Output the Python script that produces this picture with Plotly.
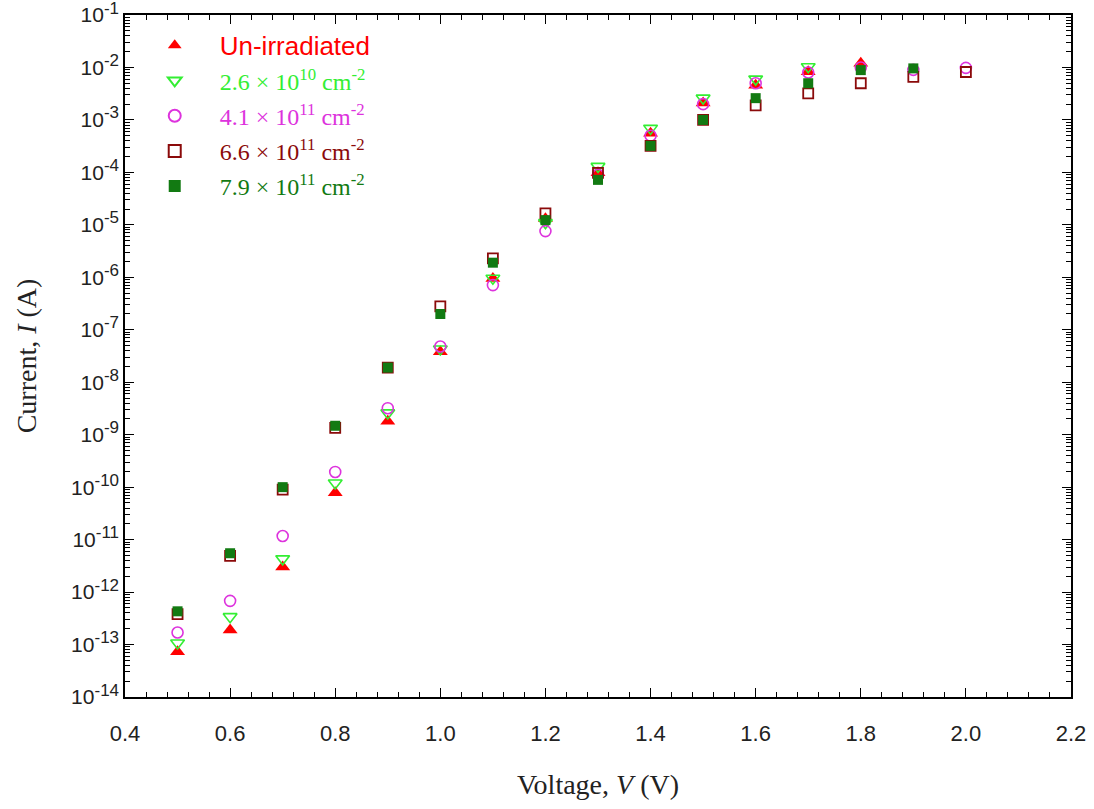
import plotly.graph_objects as go

# Voltages (V) and currents (A) per series
v_unirr = [0.5, 0.6, 0.7, 0.8, 0.9, 1.0, 1.1, 1.2, 1.3, 1.4, 1.5, 1.6, 1.7, 1.8]
i_unirr = [7.3e-14, 1.9e-13, 3.0e-12, 7.8e-11, 1.8e-9, 3.8e-8, 9.5e-7, 1.3e-5, 9.8e-5, 5.6e-4, 2.1e-3, 4.6e-3, 8.3e-3, 1.2e-2]

v_26e10 = [0.5, 0.6, 0.7, 0.8, 0.9, 1.0, 1.1, 1.2, 1.3, 1.4, 1.5, 1.6, 1.7]
i_26e10 = [1.07e-13, 3.4e-13, 4.3e-12, 1.2e-10, 2.6e-9, 4.3e-8, 9.6e-7, 1.1e-5, 1.3e-4, 6.9e-4, 2.6e-3, 6.0e-3, 1.03e-2]

v_41e11 = [0.5, 0.6, 0.7, 0.8, 0.9, 1.0, 1.1, 1.2, 1.3, 1.4, 1.5, 1.6, 1.7, 1.8, 1.9, 2.0]
i_41e11 = [1.7e-13, 6.8e-13, 1.17e-11, 1.95e-10, 3.2e-9, 4.8e-8, 7.1e-7, 7.6e-6, 9.0e-5, 5.0e-4, 2.0e-3, 5.0e-3, 8.0e-3, 1.0e-2, 9.0e-3, 9.8e-3]

v_66e11 = [0.5, 0.6, 0.7, 0.8, 0.9, 1.0, 1.1, 1.2, 1.3, 1.4, 1.5, 1.6, 1.7, 1.8, 1.9, 2.0]
i_66e11 = [3.8e-13, 4.9e-12, 9.0e-11, 1.35e-9, 1.9e-8, 2.8e-7, 2.3e-6, 1.66e-5, 9.8e-5, 3.2e-4, 1.0e-3, 1.9e-3, 3.2e-3, 5.0e-3, 6.6e-3, 8.2e-3]

v_79e11 = [0.5, 0.6, 0.7, 0.8, 0.9, 1.0, 1.1, 1.2, 1.3, 1.4, 1.5, 1.6, 1.7, 1.8, 1.9]
i_79e11 = [4.3e-13, 5.5e-12, 1.0e-10, 1.48e-9, 1.9e-8, 2.0e-7, 1.9e-6, 1.23e-5, 7.2e-5, 3.2e-4, 1.0e-3, 2.6e-3, 5.0e-3, 8.9e-3, 9.6e-3]

x_ticks = [0.4, 0.6, 0.8, 1.0, 1.2, 1.4, 1.6, 1.8, 2.0, 2.2]
x_ticktext = ["0.4", "0.6", "0.8", "1.0", "1.2", "1.4", "1.6", "1.8", "2.0", "2.2"]
y_exps = list(range(-14, 0))
y_ticks = [10.0 ** e for e in y_exps]
y_ticktext = ['10<sup><span style="font-size:17px">%d</span></sup>' % e for e in y_exps]

SERIF = "Liberation Serif, Times New Roman, serif"
SANS = "Liberation Sans, Arial, sans-serif"

def lab(txt, color, fam=SERIF, size=None):
    st = "color:%s;font-family:%s" % (color, fam)
    if size:
        st += ";font-size:%dpx" % size
    return '<span style="%s">%s</span>' % (st, txt)

series = [
    dict(x=v_unirr, y=i_unirr, name=lab("Un-irradiated", "#ff0000", SANS, 26),
         marker=dict(symbol="triangle-up", size=13, color="#ff0000", line=dict(width=0))),
    dict(x=v_26e10, y=i_26e10, name=lab("2.6 × 10<sup>10</sup> cm<sup>-2</sup>", "#33ee33"),
         marker=dict(symbol="triangle-down-open", size=12, color="#33ee33", line=dict(width=1.6))),
    dict(x=v_41e11, y=i_41e11, name=lab("4.1 × 10<sup>11</sup> cm<sup>-2</sup>", "#dd33dd"),
         marker=dict(symbol="circle-open", size=11, color="#dd33dd", line=dict(width=1.6))),
    dict(x=v_66e11, y=i_66e11, name=lab("6.6 × 10<sup>11</sup> cm<sup>-2</sup>", "#8b0a0a"),
         marker=dict(symbol="square-open", size=10, color="#8b0a0a", line=dict(width=1.8))),
    dict(x=v_79e11, y=i_79e11, name=lab("7.9 × 10<sup>11</sup> cm<sup>-2</sup>", "#127a12"),
         marker=dict(symbol="square", size=10, color="#127a12", line=dict(width=0))),
]

fig = go.Figure()
for k, s in enumerate(series):
    fig.add_trace(go.Scatter(x=s["x"], y=s["y"], mode="markers", name=s["name"],
                             marker=s["marker"], legendgroup="g%d" % k))

axis_common = dict(showline=True, linecolor="black", linewidth=1.5, mirror="allticks",
                   ticks="inside", tickcolor="black", tickwidth=1.2, showgrid=False,
                   zeroline=False)

fig.update_xaxes(range=[0.4, 2.2], tickvals=x_ticks, ticktext=x_ticktext, ticklen=9,
                 ticklabelstandoff=16,
                 tickfont=dict(family=SANS, size=22, color="#222"),
                 minor=dict(ticks="inside", dtick=0.04, tick0=0.4, ticklen=5,
                            tickcolor="black", tickwidth=1, showgrid=False),
                 title=dict(text="Voltage, <i>V</i> (V)", font=dict(family=SERIF, size=28, color="#222"),
                            standoff=29),
                 **axis_common)
fig.update_yaxes(type="log", range=[-14, -1], tickvals=y_ticks, ticktext=y_ticktext, ticklen=9,
                 ticklabeloverflow="allow",
                 tickfont=dict(family=SANS, size=21, color="#222"),
                 minor=dict(ticks="inside", dtick="D1", ticklen=5, tickcolor="black",
                            tickwidth=1, showgrid=False),
                 title=dict(text="Current, <i>I</i> (A)", font=dict(family=SERIF, size=28, color="#222"),
                            standoff=26),
                 **axis_common)

fig.update_layout(
    width=1094, height=809,
    margin=dict(l=125, r=23, t=15, b=112, autoexpand=False),
    paper_bgcolor="white", plot_bgcolor="white",
    showlegend=True,
    legend=dict(x=0.005, y=0.988, xanchor="left", yanchor="top",
                bgcolor="rgba(0,0,0,0)", borderwidth=0,
                font=dict(family=SERIF, size=24), tracegroupgap=1,
                itemwidth=80, itemsizing="constant"),
)

fig.write_html("out.html", config={"displayModeBar": False},
               post_script="document.body.style.margin='0';")
